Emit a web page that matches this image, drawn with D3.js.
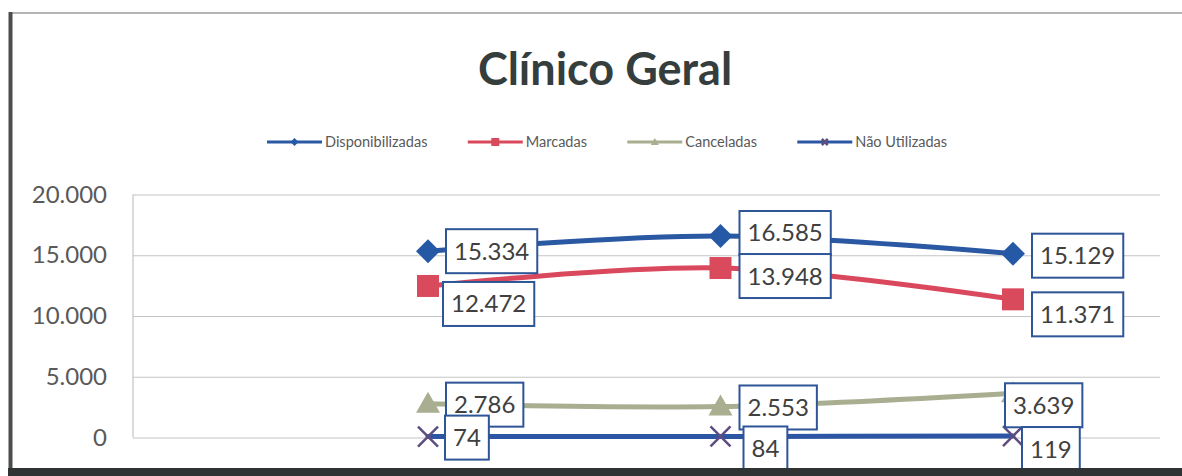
<!DOCTYPE html>
<html>
<head>
<meta charset="utf-8">
<script src="https://cdn.jsdelivr.net/npm/d3@7"></script>
<style>
  html, body { margin: 0; padding: 0; background: #ffffff; }
  svg { display: block; }
  text { font-family: Lato, "Open Sans", sans-serif; }
</style>
</head>
<body>
<svg id="chart" width="1182" height="476"></svg>
<script>
// Consultas de Clínico Geral por período
const periods = ["P1", "P2", "P3"];
const disponibilizadas = [15334, 16585, 15129];
const marcadas = [12472, 13948, 11371];
const canceladas = [2786, 2553, 3639];
const naoUtilizadas = [74, 84, 119];
const seriesNames = ["Disponibilizadas", "Marcadas", "Canceladas", "Não Utilizadas"];
const yTicks = [0, 5000, 10000, 15000, 20000];

// Nudges for the value boxes (box left edge relative to the point, box centre relative to the point)
const labelNudges = [
  [[18, 0], [19, -3], [19, 2]],
  [[15, 18], [19, 8], [19, 15]],
  [[18, 1], [19, 1], [-8, 12]],
  [[17, 1], [23, 12], [9, 13]]
];

const ptBR = d3.formatLocale({ decimal: ",", thousands: ".", grouping: [3], currency: ["R$", ""] });
const fmt = ptBR.format(",d");

const svg = d3.select("#chart");
const W = 1182, H = 476;
const plot = { left: 133, right: 1160, top: 194.5, bottom: 437.5 };
const legendSpan = [267, 947];

const series = [
  { name: seriesNames[0], values: disponibilizadas, color: "#2a58a3", marker: "diamond", markerColor: "#2558a5" },
  { name: seriesNames[1], values: marcadas, color: "#d9485c", marker: "square", markerColor: "#d94a5c" },
  { name: seriesNames[2], values: canceladas, color: "#a9ae91", marker: "triangle", markerColor: "#a9ae91" },
  { name: seriesNames[3], values: naoUtilizadas, color: "#2c56a3", marker: "x", markerColor: "#5d4d80" }
];

const x = d3.scalePoint().domain(periods).range([428, 1013]);
const y = d3.scaleLinear().domain([0, 20000]).range([plot.bottom, plot.top]);

// Outer frame
svg.append("line").attr("x1", 12).attr("x2", W).attr("y1", 13).attr("y2", 13)
  .attr("stroke", "#9c9c9c").attr("stroke-width", 1.5);
svg.append("line").attr("x1", 10.5).attr("x2", 10.5).attr("y1", 12).attr("y2", 472)
  .attr("stroke", "#4d4d4d").attr("stroke-width", 4);

// Title
svg.append("text")
  .attr("x", 605).attr("y", 85)
  .attr("text-anchor", "middle")
  .attr("font-size", 45).attr("font-weight", 700)
  .attr("fill", "#363d3d")
  .text("Clínico Geral");

// Marker shapes
function markerPath(type, size) {
  const s = size / 2;
  switch (type) {
    case "diamond": return `M0,${-s}L${s},0L0,${s}L${-s},0Z`;
    case "square": return `M${-s},${-s}H${s}V${s}H${-s}Z`;
    case "triangle": return `M0,${-s}L${s},${s * 0.75}H${-s}Z`;
    default: return `M${-s},${-s}L${s},${s}M${s},${-s}L${-s},${s}`;
  }
}
function drawMarker(g, type, color, size) {
  const p = g.append("path").attr("d", markerPath(type, size));
  if (type === "x") p.attr("fill", "none").attr("stroke", color).attr("stroke-width", 2.5);
  else p.attr("fill", color);
  return p;
}

// Legend
const legend = svg.append("g").attr("class", "legend");
const legendItems = [];
series.forEach(s => {
  const g = legend.append("g");
  g.append("line").attr("x1", 0).attr("x2", 55).attr("y1", 0).attr("y2", 0)
    .attr("stroke", s.color).attr("stroke-width", 3);
  const m = drawMarker(g, s.marker, s.markerColor, s.marker === "x" ? 6 : 8);
  m.attr("transform", "translate(27.5,0)");
  const t = g.append("text").attr("x", 58).attr("y", 5)
    .attr("font-size", 14.5).attr("fill", "#595959").text(s.name);
  legendItems.push({ g, w: 58 + t.node().getComputedTextLength() });
});
const legendGap = (legendSpan[1] - legendSpan[0] - d3.sum(legendItems, d => d.w)) / (legendItems.length - 1);
let lx = legendSpan[0];
legendItems.forEach(it => {
  it.g.attr("transform", `translate(${lx},142)`);
  lx += it.w + legendGap;
});

// Grid and axis
const yAxis = d3.axisLeft(y).tickValues(yTicks).tickFormat(fmt)
  .tickSize(-(plot.right - plot.left)).tickPadding(26);
const ga = svg.append("g").attr("transform", `translate(${plot.left},0)`).call(yAxis);
ga.select(".domain").remove();
ga.selectAll(".tick line").attr("stroke", "#c4c4c4").attr("stroke-width", 1.2);
ga.selectAll(".tick text").attr("font-size", 24).attr("fill", "#595959")
  .attr("font-family", "Lato, sans-serif");
svg.append("line").attr("x1", plot.left).attr("x2", plot.left)
  .attr("y1", plot.top).attr("y2", plot.bottom)
  .attr("stroke", "#c4c4c4").attr("stroke-width", 1.2);

// Lines
const line = d3.line()
  .x((d, i) => x(periods[i]))
  .y(d => y(d))
  .curve(d3.curveCardinal.tension(0));

const linesG = svg.append("g");
series.forEach(s => {
  linesG.append("path").datum(s.values)
    .attr("d", line)
    .attr("fill", "none")
    .attr("stroke", s.color)
    .attr("stroke-width", 5)
    .attr("stroke-linecap", "round");
});

// Markers
series.forEach(s => {
  const g = svg.append("g");
  s.values.forEach((v, i) => {
    const m = drawMarker(g, s.marker, s.markerColor, s.marker === "square" ? 22 : (s.marker === "x" ? 20 : 24));
    m.attr("transform", `translate(${x(periods[i])},${y(v)})`);
  });
});

// Value boxes
series.forEach((s, si) => {
  s.values.forEach((v, i) => {
    const [dx, dy] = labelNudges[si][i];
    const px = x(periods[i]), py = y(v);
    const g = svg.append("g").attr("transform", `translate(${px + dx},${py + dy})`);
    const rect = g.append("rect");
    const t = g.append("text").attr("x", 8).attr("y", 8.5)
      .attr("font-size", 24).attr("fill", "#404040").text(fmt(v));
    const tw = t.node().getComputedTextLength();
    rect.attr("x", 0).attr("y", -22).attr("width", tw + 16).attr("height", 44)
      .attr("fill", "#ffffff").attr("stroke", "#2e5597").attr("stroke-width", 2);
  });
});

// Bottom band of the frame, drawn last so it sits over the boxes that run into it
svg.append("rect").attr("x", 8).attr("y", 468).attr("width", W - 8).attr("height", 8)
  .attr("fill", "#2f3333");
</script>
</body>
</html>
